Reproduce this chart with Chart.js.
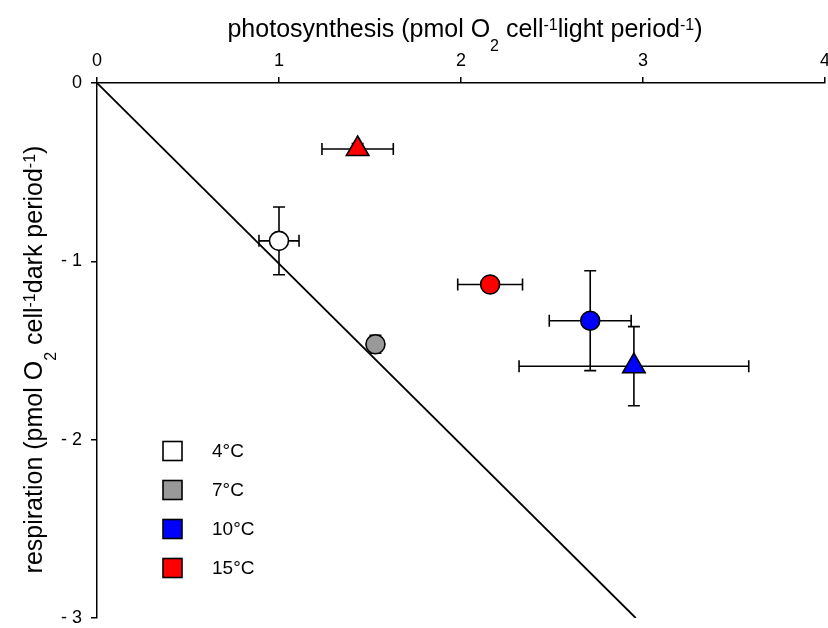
<!DOCTYPE html>
<html>
<head>
<meta charset="utf-8">
<script src="https://cdn.jsdelivr.net/npm/chart.js@4.4.1/dist/chart.umd.min.js"></script>
<style>
    html, body { margin: 0; padding: 0; background: #fff; }
    #wrap { width: 828px; height: 628px; }
</style>
</head>
<body>
<div id="wrap"><canvas id="PsResp"></canvas></div>
<script>
// temperature groups
var tempLabels = ['4°C', '7°C', '10°C', '15°C'];
var tempColors = ['#ffffff', '#999999', '#0000ff', '#ff0000'];

// circles, one per temperature (same order as tempLabels)
var circleX = [1.00, 1.53, 2.71, 2.16];
var circleY = [-0.885, -1.465, -1.333, -1.13];
var circleXErr = [0.11, 0, 0.225, 0.178];
var circleYErr = [0.19, 0.05, 0.28, 0.04];

// triangles, only for 10°C and 15°C
var triTemp = [2, 3];
var triX = [2.95, 1.432];
var triY = [-1.588, -0.37];
var triXErr = [0.631, 0.196];
var triYErr = [0.222, 0.03];

// 1:1 line
var lineX = [0, 2.96];
var lineY = [0, -3];

// axes
var xTicks = [0, 1, 2, 3, 4];
var xTickLabels = ['0', '1', '2', '3', '4'];
var yTicks = [0, -1, -2, -3];
var yTickLabels = ['0', '- 1', '- 2', '- 3'];

var FONT = '"Liberation Sans", Arial, sans-serif';

function toPoints(xs, ys) {
    return xs.map(function (x, i) { return { x: x, y: ys[i] }; });
}

// error bars drawn under the symbols
var errorBars = {
    id: 'errorBars',
    beforeDatasetsDraw: function (chart) {
        var ctx = chart.ctx;
        var xs = chart.scales.x, ys = chart.scales.y;
        var cap = 6;
        ctx.save();
        ctx.strokeStyle = '#000';
        ctx.lineWidth = 1.6;
        chart.data.datasets.forEach(function (ds) {
            if (!ds.xErr) return;
            ds.data.forEach(function (p, j) {
                var px = xs.getPixelForValue(p.x), py = ys.getPixelForValue(p.y);
                var ex = ds.xErr[j], ey = ds.yErr[j];
                ctx.beginPath();
                if (ex > 0) {
                    var x0 = xs.getPixelForValue(p.x - ex), x1 = xs.getPixelForValue(p.x + ex);
                    ctx.moveTo(x0, py); ctx.lineTo(x1, py);
                    ctx.moveTo(x0, py - cap); ctx.lineTo(x0, py + cap);
                    ctx.moveTo(x1, py - cap); ctx.lineTo(x1, py + cap);
                }
                if (ey > 0) {
                    var y0 = ys.getPixelForValue(p.y - ey), y1 = ys.getPixelForValue(p.y + ey);
                    ctx.moveTo(px, y0); ctx.lineTo(px, y1);
                    ctx.moveTo(px - cap, y0); ctx.lineTo(px + cap, y0);
                    ctx.moveTo(px - cap, y1); ctx.lineTo(px + cap, y1);
                }
                ctx.stroke();
            });
        });
        ctx.restore();
    }
};

// text with sub/superscripts, rs = [[text, mode]] mode: 0 normal, 1 sup, -1 sub
function runFont(r, size) {
    return (r[1] ? Math.round(size * 0.62) : size) + 'px ' + FONT;
}
function richWidth(ctx, rs, size) {
    var w = 0;
    rs.forEach(function (r) {
        ctx.font = runFont(r, size);
        w += ctx.measureText(r[0]).width;
    });
    return w;
}
function drawRich(ctx, rs, size, cx, baseY) {
    var x = cx - richWidth(ctx, rs, size) / 2;
    rs.forEach(function (r) {
        ctx.font = runFont(r, size);
        var dy = r[1] === 1 ? -size * 0.29 : (r[1] === -1 ? size * 0.56 : 0);
        ctx.fillText(r[0], x, baseY + dy);
        x += ctx.measureText(r[0]).width;
    });
}

var xTitle = [['photosynthesis (pmol O', 0], ['2', -1], [' cell', 0], ['-1', 1], ['light period', 0], ['-1', 1], [')', 0]];
var yTitle = [['respiration (pmol O', 0], ['2', -1], [' cell', 0], ['-1', 1], ['dark period', 0], ['-1', 1], [')', 0]];

var titlesAndLegend = {
    id: 'titlesAndLegend',
    afterDraw: function (chart) {
        var ctx = chart.ctx, a = chart.chartArea;
        ctx.save();
        ctx.fillStyle = '#000';
        ctx.textBaseline = 'alphabetic';
        ctx.textAlign = 'left';
        drawRich(ctx, xTitle, 25, (a.left + a.right) / 2 + 4, 37);

        ctx.save();
        ctx.translate(42, (a.top + a.bottom) / 2 + 9);
        ctx.rotate(-Math.PI / 2);
        drawRich(ctx, yTitle, 25, 0, 0);
        ctx.restore();

        // legend
        ctx.lineWidth = 1.6;
        ctx.strokeStyle = '#000';
        ctx.textBaseline = 'middle';
        ctx.font = '19px ' + FONT;
        tempLabels.forEach(function (lab, i) {
            var cy = a.top + 368 + i * 39;
            ctx.fillStyle = tempColors[i];
            ctx.fillRect(a.left + 66, cy - 9.5, 19, 19);
            ctx.strokeRect(a.left + 66, cy - 9.5, 19, 19);
            ctx.fillStyle = '#000';
            ctx.fillText(lab, a.left + 115, cy + 1);
        });
        ctx.restore();
    }
};

function noPadding() {
    return { left: 0, top: 0, right: 0, bottom: 0 };
}

var ctx = document.getElementById('PsResp');
new Chart(ctx, {
    type: 'scatter',
    data: {
        datasets: [
            {
                label: 'circles',
                data: toPoints(circleX, circleY),
                xErr: circleXErr,
                yErr: circleYErr,
                pointStyle: 'circle',
                pointRadius: 9.5,
                backgroundColor: tempColors,
                borderColor: '#000',
                borderWidth: 1.6,
                order: 1
            },
            {
                label: 'triangles',
                data: toPoints(triX, triY),
                xErr: triXErr,
                yErr: triYErr,
                pointStyle: 'triangle',
                pointRadius: 13,
                backgroundColor: triTemp.map(function (t) { return tempColors[t]; }),
                borderColor: '#000',
                borderWidth: 1.6,
                order: 0
            },
            {
                type: 'line',
                label: '1:1',
                data: toPoints(lineX, lineY),
                borderColor: '#000',
                borderWidth: 1.8,
                pointRadius: 0,
                fill: false,
                order: 5
            }
        ]
    },
    options: {
        responsive: true,
        maintainAspectRatio: false,
        animation: false,
        events: [],
        layout: { autoPadding: false, padding: { left: 0, top: 0, right: 3, bottom: 10 } },
        plugins: {
            legend: { display: false },
            tooltip: { enabled: false }
        },
        scales: {
            x: {
                type: 'linear',
                position: 'top',
                min: 0,
                max: 4,
                afterBuildTicks: function (s) { s.ticks = xTicks.map(function (v) { return { value: v }; }); },
                afterFit: function (s) {
                    s.height = 83;
                    s.paddingLeft = 0; s.paddingRight = 0;
                    s.getPadding = noPadding;
                },
                ticks: {
                    color: '#000',
                    font: { family: FONT, size: 18 },
                    padding: 5,
                    maxRotation: 0,
                    callback: function (v) { return xTickLabels[xTicks.indexOf(v)]; }
                },
                grid: { drawOnChartArea: false, drawTicks: true, tickLength: 6, color: '#000', lineWidth: 1.5 },
                border: { display: true, color: '#000', width: 1.5 }
            },
            y: {
                type: 'linear',
                min: -3,
                max: 0,
                afterBuildTicks: function (s) { s.ticks = yTicks.map(function (v) { return { value: v }; }); },
                afterFit: function (s) {
                    s.width = 97;
                    s.paddingTop = 0; s.paddingBottom = 0;
                    s.getPadding = noPadding;
                },
                ticks: {
                    color: '#000',
                    font: { family: FONT, size: 18 },
                    padding: 9,
                    callback: function (v) { return yTickLabels[yTicks.indexOf(v)]; }
                },
                grid: { drawOnChartArea: false, drawTicks: true, tickLength: 6, color: '#000', lineWidth: 1.5 },
                border: { display: true, color: '#000', width: 1.5 }
            }
        }
    },
    plugins: [errorBars, titlesAndLegend]
});
</script>
</body>
</html>
